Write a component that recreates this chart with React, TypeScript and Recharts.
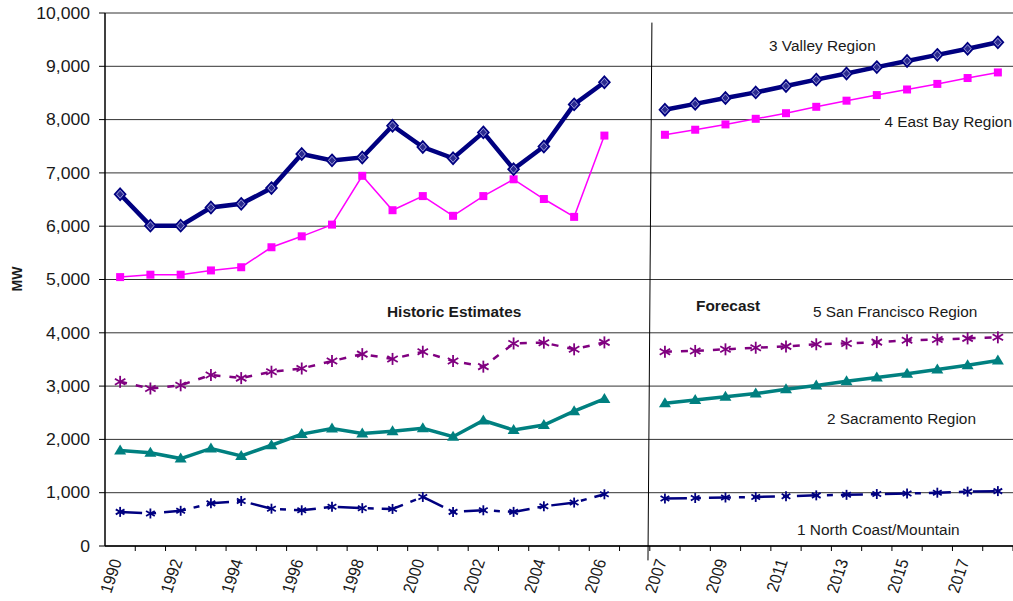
import { CartesianGrid, Line, LineChart, ReferenceLine, XAxis, YAxis } from "recharts";

const historicYears = ["1990", "1991", "1992", "1993", "1994", "1995", "1996", "1997", "1998", "1999", "2000", "2001", "2002", "2003", "2004", "2005", "2006"];
const forecastYears = ["2007", "2008", "2009", "2010", "2011", "2012", "2013", "2014", "2015", "2016", "2017", "2018"];
const labeledYears = ["1990", "1992", "1994", "1996", "1998", "2000", "2002", "2004", "2006", "2007", "2009", "2011", "2013", "2015", "2017"];
const yTicks = [0, 1000, 2000, 3000, 4000, 5000, 6000, 7000, 8000, 9000, 10000];

const northCoastHist = [640, 610, 660, 800, 845, 700, 670, 735, 710, 695, 920, 640, 670, 640, 745, 815, 970];
const northCoastFcst = [890, 900, 910, 920, 935, 950, 960, 975, 985, 1000, 1020, 1030];
const sacramentoHist = [1790, 1750, 1640, 1830, 1690, 1890, 2100, 2205, 2110, 2155, 2210, 2050, 2355, 2175, 2270, 2530, 2760];
const sacramentoFcst = [2680, 2740, 2800, 2860, 2940, 3010, 3090, 3160, 3230, 3310, 3390, 3480];
const valleyHist = [6600, 6010, 6010, 6350, 6420, 6715, 7355, 7235, 7290, 7885, 7485, 7275, 7760, 7070, 7495, 8285, 8700];
const valleyFcst = [8185, 8295, 8405, 8510, 8630, 8750, 8865, 8985, 9100, 9215, 9330, 9450];
const eastBayHist = [5045, 5090, 5090, 5170, 5230, 5605, 5810, 6030, 6945, 6300, 6565, 6195, 6565, 6880, 6510, 6175, 7700];
const eastBayFcst = [7715, 7810, 7910, 8015, 8120, 8240, 8355, 8460, 8565, 8670, 8780, 8885];
const sanFranHist = [3080, 2955, 3015, 3210, 3150, 3270, 3330, 3470, 3600, 3510, 3645, 3470, 3365, 3800, 3815, 3690, 3820];
const sanFranFcst = [3645, 3660, 3690, 3720, 3745, 3785, 3800, 3825, 3860, 3875, 3895, 3915];

type Row = {
  idx: number;
  year: string;
  nc: number | null;
  sac: number | null;
  valley: number | null;
  eb: number | null;
  sf: number | null;
};

const rows: Row[] = [];
historicYears.forEach((year, i) => {
  rows.push({ idx: rows.length, year, nc: northCoastHist[i], sac: sacramentoHist[i], valley: valleyHist[i], eb: eastBayHist[i], sf: sanFranHist[i] });
});
// empty slot between the historic and forecast periods
rows.push({ idx: rows.length, year: "", nc: null, sac: null, valley: null, eb: null, sf: null });
forecastYears.forEach((year, i) => {
  rows.push({ idx: rows.length, year, nc: northCoastFcst[i], sac: sacramentoFcst[i], valley: valleyFcst[i], eb: eastBayFcst[i], sf: sanFranFcst[i] });
});

const W = 1013;
const H = 601;
const LEFT = 105;
const BAND = (W - LEFT) / rows.length;
const FONT = "'Liberation Sans', Arial, sans-serif";
const TEXT = "#1a1a1a";

const fmt = (v: number) => String(v).replace(/\B(?=(\d{3})+(?!\d))/g, ",");

const YTick = (props: any) => {
  const { x, y, payload } = props;
  return (
    <text transform={`translate(${x},${y}) scale(1.1,1)`} textAnchor="end" dy="0.36em" fontSize={16} fill={TEXT} fontFamily={FONT}>
      {fmt(payload.value)}
    </text>
  );
};

const XTick = (props: any) => {
  const { x, y, payload } = props;
  const row = rows[payload.value];
  const label = row && labeledYears.includes(row.year) ? row.year : null;
  return (
    <g>
      <line x1={x + BAND / 2} x2={x + BAND / 2} y1={y} y2={y + 5} stroke="#000" />
      {label && (
        <text transform={`translate(${x + 2},${y + 15}) scale(1.1,1) rotate(-73)`} textAnchor="end" fontSize={15.5} fill={TEXT} fontFamily={FONT}>
          {label}
        </text>
      )}
    </g>
  );
};

const Diamond = (props: any) => {
  const { cx, cy } = props;
  if (cx == null || cy == null) return <g />;
  return (
    <g>
      <polygon points={`${cx},${cy - 6} ${cx + 5.5},${cy} ${cx},${cy + 6} ${cx - 5.5},${cy}`} fill="#2a2a90" stroke="#000080" strokeWidth={1.6} />
      <polygon points={`${cx},${cy - 4} ${cx + 3.5},${cy} ${cx},${cy + 4} ${cx - 3.5},${cy}`} fill="none" stroke="#a0a0e0" strokeWidth={0.9} />
    </g>
  );
};

const Square = (props: any) => {
  const { cx, cy } = props;
  if (cx == null || cy == null) return <g />;
  return <rect x={cx - 4} y={cy - 4} width={8} height={8} fill="#ff00ff" />;
};

const Triangle = (props: any) => {
  const { cx, cy } = props;
  if (cx == null || cy == null) return <g />;
  return <polygon points={`${cx},${cy - 6} ${cx + 6},${cy + 4} ${cx - 6},${cy + 4}`} fill="#008080" />;
};

const makeStar = (color: string, r: number) => (props: any) => {
  const { cx, cy } = props;
  if (cx == null || cy == null) return <g />;
  const d = r * 0.87;
  const h = r * 0.5;
  return (
    <g stroke={color} strokeWidth={1.8}>
      <line x1={cx} y1={cy - r} x2={cx} y2={cy + r} />
      <line x1={cx - d} y1={cy - h} x2={cx + d} y2={cy + h} />
      <line x1={cx - d} y1={cy + h} x2={cx + d} y2={cy - h} />
    </g>
  );
};

const StarSF = makeStar("#800080", 6);
const StarNC = makeStar("#000080", 5);

type Note = { text: string; left: number; cy: number; bold?: boolean; bg?: boolean };

const notes: Note[] = [
  { text: "3 Valley Region", left: 769, cy: 46 },
  { text: "4 East Bay Region", left: 884, cy: 122, bg: true },
  { text: "5 San Francisco Region", left: 813, cy: 312 },
  { text: "2 Sacramento Region", left: 827, cy: 419 },
  { text: "1 North Coast/Mountain", left: 797, cy: 530 },
  { text: "Forecast", left: 696, cy: 306, bold: true },
  { text: "Historic Estimates", left: 387, cy: 312, bold: true },
];

export default function App() {
  return (
    <div style={{ position: "absolute", left: 0, top: 0, width: W, height: H, background: "#fff", overflow: "hidden", fontFamily: FONT }}>
      <LineChart width={W} height={H} data={rows} margin={{ top: 13, right: 0, bottom: 0, left: 0 }}>
        <CartesianGrid vertical={false} stroke="#333" />
        <XAxis
          dataKey="idx"
          type="number"
          domain={[-0.5, rows.length - 0.5]}
          ticks={rows.map((r) => r.idx)}
          interval={0}
          height={55}
          tickLine={false}
          tickSize={0}
          tickMargin={0}
          axisLine={{ stroke: "#000", strokeWidth: 1.5 }}
          tick={XTick}
        />
        <YAxis
          width={LEFT}
          domain={[0, 10000]}
          ticks={yTicks}
          interval={0}
          tickSize={6}
          tickMargin={9}
          tickLine={{ stroke: "#000" }}
          axisLine={{ stroke: "#000", strokeWidth: 1.5 }}
          tick={YTick}
        />
        <ReferenceLine
          segment={[
            { x: 17.57, y: 9820 },
            { x: 17.44, y: -270 },
          ]}
          stroke="#000"
          strokeWidth={1}
          ifOverflow="visible"
        />
        <Line type="linear" dataKey="nc" stroke="#000080" strokeWidth={2.5} strokeDasharray="22 8 6 8" dot={StarNC} isAnimationActive={false} />
        <Line type="linear" dataKey="sac" stroke="#008080" strokeWidth={3.5} dot={Triangle} isAnimationActive={false} />
        <Line type="linear" dataKey="sf" stroke="#800080" strokeWidth={2.5} strokeDasharray="7 9" dot={StarSF} isAnimationActive={false} />
        <Line type="linear" dataKey="eb" stroke="#ff00ff" strokeWidth={1.5} dot={Square} isAnimationActive={false} />
        <Line type="linear" dataKey="valley" stroke="#000080" strokeWidth={4.5} dot={Diamond} isAnimationActive={false} />
      </LineChart>
      <div
        style={{
          position: "absolute",
          left: 16,
          top: 279,
          fontSize: 14,
          fontWeight: 700,
          color: TEXT,
          transform: "translate(-50%, -50%) scaleX(1.1) rotate(-90deg)",
          lineHeight: "14px",
        }}
      >
        MW
      </div>
      {notes.map((n) => (
        <div
          key={n.text}
          style={{
            position: "absolute",
            left: n.bg ? n.left - 4 : n.left,
            top: n.cy - 8,
            height: 16,
            lineHeight: "16px",
            fontSize: 14,
            fontWeight: n.bold ? 700 : 400,
            color: TEXT,
            whiteSpace: "nowrap",
            background: n.bg ? "#fff" : "transparent",
            paddingLeft: n.bg ? 4 : 0,
            paddingRight: n.bg ? 10 : 0,
            transform: "scaleX(1.1)",
            transformOrigin: "left center",
          }}
        >
          {n.text}
        </div>
      ))}
    </div>
  );
}
